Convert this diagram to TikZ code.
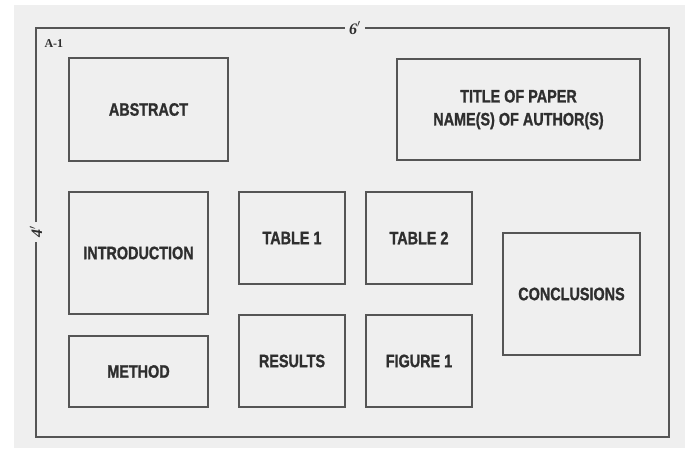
\documentclass[tikz,border=0pt]{standalone}
\usepackage{fontspec}
\setmainfont{Liberation Sans}
\newfontfamily\condfont[FakeStretch=0.8,FakeBold=1.2]{Liberation Sans Bold}
\newfontfamily\serifbold{Liberation Serif Bold}
\definecolor{paper}{HTML}{EFEFEF}
\definecolor{ink}{HTML}{555555}
\definecolor{txt}{HTML}{2E2E2E}
\begin{document}
\begin{tikzpicture}[x=1pt,y=-1pt,
  panel/.style={draw=ink,line width=1.6pt,inner sep=0pt,font=\condfont\fontsize{18}{23}\selectfont,text=txt,align=center},
  dim/.style={font=\serifbold\itshape\fontsize{16}{16}\selectfont,text=txt,inner sep=4pt}]
\useasboundingbox (0,0) rectangle (685,448);
\fill[white] (0,0) rectangle (685,448);
\fill[paper] (14,5) rectangle (685,448);
% outer frame with dimension labels
\node[dim] (six) at (355,28) {6$'$};
\node[dim,rotate=90] (four) at (36,232) {4$'$};
\coordinate (tl) at (36,28);
\coordinate (tr) at (669,28);
\coordinate (br) at (669,437);
\coordinate (bl) at (36,437);
\draw[ink,line width=1.4pt] (six.east) -- (tr) -- (br) -- (bl) -- (four.west);
\draw[ink,line width=1.4pt] (four.east) -- (tl) -- (six.west);
\node[font=\serifbold\fontsize{12}{12}\selectfont,text=txt,anchor=west] (a1) at (41,44) {A-1};
% panels
\node[panel,minimum width=159pt,minimum height=103pt] (abs) at (148.5,109.5) {ABSTRACT};
\node[panel,minimum width=243pt,minimum height=101pt] (title) at (518.5,109.5) {TITLE OF PAPER\\NAME(S) OF AUTHOR(S)};
\node[panel,minimum width=139pt,minimum height=122pt] (intro) at (138.5,253) {INTRODUCTION};
\node[panel,minimum width=106pt,minimum height=92pt] (t1) at (292,238) {TABLE 1};
\node[panel,minimum width=106pt,minimum height=92pt] (t2) at (419,238) {TABLE 2};
\node[panel,minimum width=137pt,minimum height=122pt] (conc) at (571.5,294) {CONCLUSIONS};
\node[panel,minimum width=139pt,minimum height=71pt] (meth) at (138.5,371.5) {METHOD};
\node[panel,minimum width=106pt,minimum height=92pt] (res) at (292,361) {RESULTS};
\node[panel,minimum width=106pt,minimum height=92pt] (fig) at (419,361) {FIGURE 1};
\end{tikzpicture}
\end{document}
